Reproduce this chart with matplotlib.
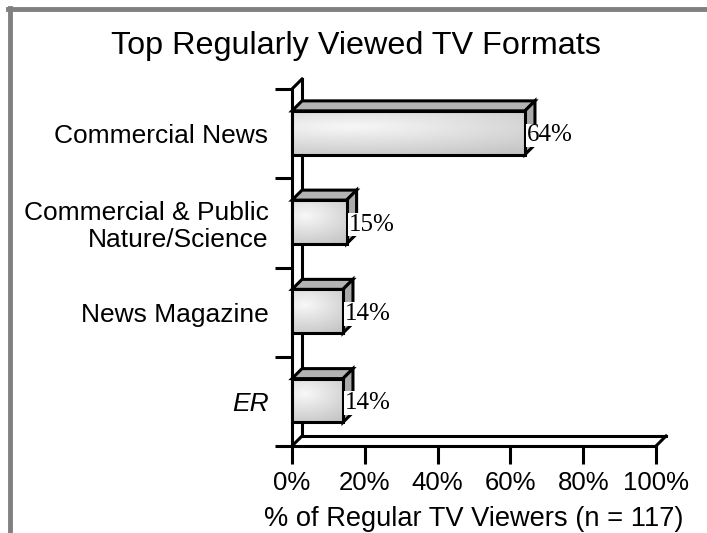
import matplotlib.pyplot as plt
import numpy as np
from matplotlib.patches import Polygon, Rectangle
from matplotlib.lines import Line2D

categories = ["ER", "News Magazine", "Commercial & Public\nNature/Science", "Commercial News"]
values = [14, 14, 15, 64]
value_labels = ["14%", "14%", "15%", "64%"]
xticks = [0, 20, 40, 60, 80, 100]
xtick_labels = ["0%", "20%", "40%", "60%", "80%", "100%"]

W, H = 707, 533
fig = plt.figure(figsize=(W / 100, H / 100), dpi=100)
ax = fig.add_axes([292 / W, 1 - 446 / H, 364 / W, 357 / H])
ax.set_xlim(0, 100)
ax.set_ylim(-0.5, len(categories) - 0.5)
for s in ax.spines.values():
    s.set_visible(False)
ax.patch.set_alpha(0)

# depth of the fake 3d, pixels -> data units
fig.canvas.draw()
p0 = ax.transData.transform((0, 0))
dx, dy = ax.transData.inverted().transform(p0 + np.array([10, 10]))

lw = 2.2
ymin, ymax = -0.5, len(categories) - 0.5
k = dict(color="black", lw=lw, solid_capstyle="projecting", zorder=2, clip_on=False)
# wall
ax.plot([dx, dx], [ymin + dy, ymax + dy], **k)
ax.plot([0, dx], [ymax, ymax + dy], **k)
ax.plot([0, 0], [ymin, ymax], **k)
# floor
ax.plot([dx, 100 + dx], [ymin + dy, ymin + dy], **k)
ax.plot([100, 100 + dx], [ymin, ymin + dy], **k)
ax.plot([0, dx], [ymin, ymin + dy], **k)
ax.plot([0, 100], [ymin, ymin], **k)

# gradient for bar fronts
gx, gy = np.meshgrid(np.linspace(0, 1, 200), np.linspace(0, 1, 60))
grad = 0.97 - 0.22 * np.sqrt(((gx - 0.25) * 0.8) ** 2 + ((gy - 0.35) * 1.2) ** 2)

h = 0.245
for i, v in enumerate(values):
    y0, y1 = i - h + 0.01, i + h + 0.01
    top = Polygon([(0, y1), (v, y1), (v + dx, y1 + dy), (dx, y1 + dy)], closed=True,
                  facecolor="#b3b3b3", edgecolor="black", lw=lw, zorder=3,
                  joinstyle="miter", clip_on=False)
    side = Polygon([(v, y0), (v, y1), (v + dx, y1 + dy), (v + dx, y0 + dy)], closed=True,
                   facecolor="#aaaaaa", edgecolor="black", lw=lw, zorder=3,
                   joinstyle="miter", clip_on=False)
    front = Rectangle((0, y0), v, y1 - y0, facecolor="none", edgecolor="black", lw=lw,
                      zorder=5, clip_on=False)
    ax.add_patch(top)
    ax.add_patch(side)
    im = ax.imshow(grad, cmap="gray", vmin=0, vmax=1, extent=(0, v, y0, y1),
                   aspect="auto", zorder=4, interpolation="bilinear")
    clip = Rectangle((0, y0), v, y1 - y0, transform=ax.transData)
    im.set_clip_path(clip)
    ax.add_patch(front)
    ax.text(v + 0.5, i - 0.02, value_labels[i], fontsize=18, family="Liberation Serif",
            va="center", ha="left", zorder=6,
            bbox=dict(boxstyle="square,pad=0.03", facecolor="white", edgecolor="none"))

ax.set_xlim(0, 100)
ax.set_ylim(ymin, ymax)
ax.set_xticks(xticks)
ax.set_xticklabels(xtick_labels, fontsize=18.5, family="Liberation Sans")
ax.tick_params(axis="x", direction="out", length=13, width=lw, pad=5)
ax.set_yticks(range(len(categories)))
ax.set_yticklabels(categories, fontsize=19, family="Liberation Sans", linespacing=1.15)
ax.get_yticklabels()[0].set_style("italic")
ax.set_yticks(np.arange(ymin, ymax + 0.01, 1), minor=True)
ax.tick_params(axis="y", which="major", length=0, pad=17)
ax.tick_params(axis="y", which="minor", direction="out", length=12, width=lw)
ax.set_xlabel("% of Regular TV Viewers (n = 117)", fontsize=19.6, family="Liberation Sans", labelpad=8)

fig.text(356 / W, 1 - 46 / H, "Top Regularly Viewed TV Formats", fontsize=23.3,
         family="Liberation Sans", ha="center", va="center")

# grey frame (left and top)
fig.add_artist(Line2D([10 / W, 10 / W], [0, 1 - 8 / H], color="#808080", lw=3.5, transform=fig.transFigure))
fig.add_artist(Line2D([8 / W, 1], [1 - 9 / H, 1 - 9 / H], color="#808080", lw=3.5, transform=fig.transFigure))

fig.savefig("out.png", dpi=100)
